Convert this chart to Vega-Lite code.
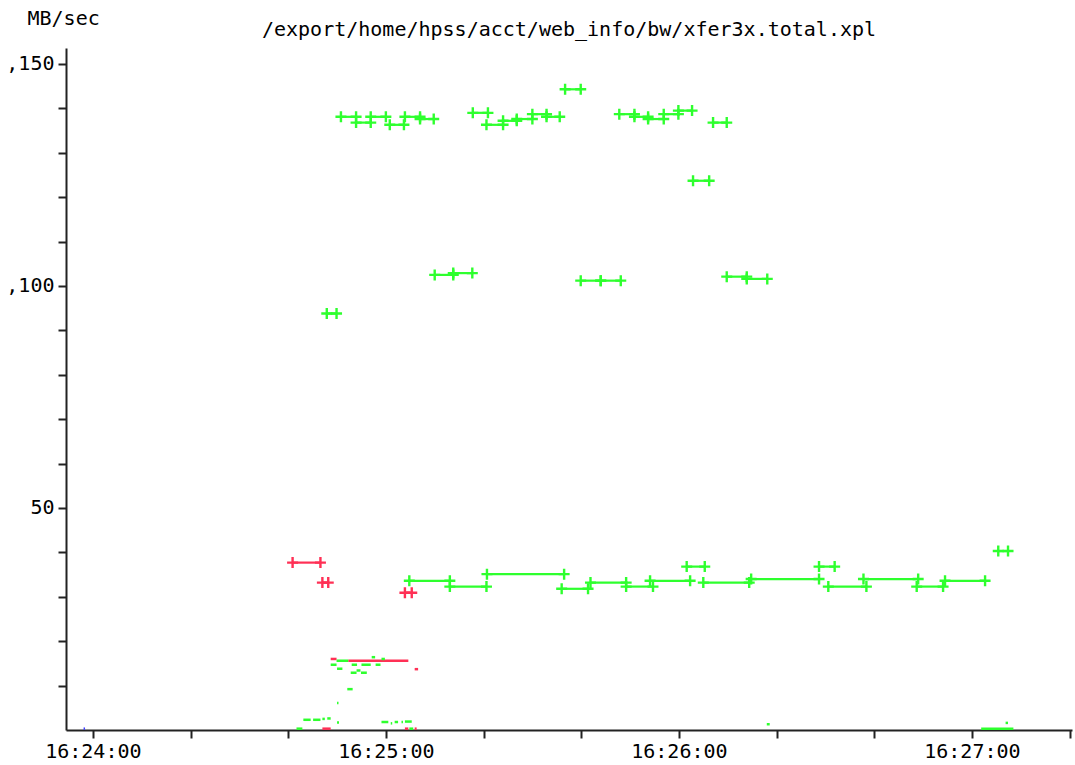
{
  "$schema": "https://vega.github.io/schema/vega-lite/v6.json",
  "autosize": "none",
  "width": 1006,
  "height": 682,
  "padding": {"left": 66, "top": 48, "right": 3, "bottom": 35},
  "background": "white",
  "title": {"text": "/export/home/hpss/acct/web_info/bw/xfer3x.total.xpl", "font": "DejaVu Sans Mono", "fontSize": 20, "fontWeight": "normal", "anchor": "middle", "offset": -32, "color": "black"},
  "config": {"view": {"stroke": null}, "axis": {"grid": false, "labelFont": "DejaVu Sans Mono", "labelFontSize": 20, "labelColor": "black", "titleFont": "DejaVu Sans Mono", "titleFontSize": 20, "titleFontWeight": "normal", "titleColor": "black", "domainColor": "#222", "domainWidth": 2, "tickColor": "#222", "tickWidth": 2, "tickSize": 8}},
  "datasets": {
    "segs": [
      {"start": "2000-01-01T16:24:50.8", "end": "2000-01-01T16:24:53.9", "mbps": 138.1, "flow": "green"},
      {"start": "2000-01-01T16:24:53.9", "end": "2000-01-01T16:24:56.9", "mbps": 136.8, "flow": "green"},
      {"start": "2000-01-01T16:24:56.9", "end": "2000-01-01T16:25:00.0", "mbps": 138.1, "flow": "green"},
      {"start": "2000-01-01T16:25:00.8", "end": "2000-01-01T16:25:03.7", "mbps": 136.3, "flow": "green"},
      {"start": "2000-01-01T16:25:03.9", "end": "2000-01-01T16:25:07.0", "mbps": 138.1, "flow": "green"},
      {"start": "2000-01-01T16:25:07.0", "end": "2000-01-01T16:25:09.8", "mbps": 137.6, "flow": "green"},
      {"start": "2000-01-01T16:25:17.8", "end": "2000-01-01T16:25:20.9", "mbps": 139.0, "flow": "green"},
      {"start": "2000-01-01T16:25:20.6", "end": "2000-01-01T16:25:24.0", "mbps": 136.3, "flow": "green"},
      {"start": "2000-01-01T16:25:24.0", "end": "2000-01-01T16:25:26.8", "mbps": 137.2, "flow": "green"},
      {"start": "2000-01-01T16:25:26.8", "end": "2000-01-01T16:25:30.0", "mbps": 137.6, "flow": "green"},
      {"start": "2000-01-01T16:25:30.0", "end": "2000-01-01T16:25:32.9", "mbps": 138.7, "flow": "green"},
      {"start": "2000-01-01T16:25:32.9", "end": "2000-01-01T16:25:35.6", "mbps": 138.1, "flow": "green"},
      {"start": "2000-01-01T16:25:36.7", "end": "2000-01-01T16:25:39.9", "mbps": 144.3, "flow": "green"},
      {"start": "2000-01-01T16:25:47.8", "end": "2000-01-01T16:25:50.9", "mbps": 138.7, "flow": "green"},
      {"start": "2000-01-01T16:25:50.9", "end": "2000-01-01T16:25:53.7", "mbps": 138.1, "flow": "green"},
      {"start": "2000-01-01T16:25:53.7", "end": "2000-01-01T16:25:56.9", "mbps": 137.6, "flow": "green"},
      {"start": "2000-01-01T16:25:56.9", "end": "2000-01-01T16:25:59.9", "mbps": 138.7, "flow": "green"},
      {"start": "2000-01-01T16:25:59.9", "end": "2000-01-01T16:26:02.7", "mbps": 139.5, "flow": "green"},
      {"start": "2000-01-01T16:26:02.9", "end": "2000-01-01T16:26:06.2", "mbps": 123.7, "flow": "green"},
      {"start": "2000-01-01T16:26:07.0", "end": "2000-01-01T16:26:09.8", "mbps": 136.8, "flow": "green"},
      {"start": "2000-01-01T16:24:47.9", "end": "2000-01-01T16:24:49.9", "mbps": 93.8, "flow": "green"},
      {"start": "2000-01-01T16:25:10.0", "end": "2000-01-01T16:25:13.8", "mbps": 102.5, "flow": "green"},
      {"start": "2000-01-01T16:25:13.8", "end": "2000-01-01T16:25:17.7", "mbps": 102.9, "flow": "green"},
      {"start": "2000-01-01T16:25:39.9", "end": "2000-01-01T16:25:44.0", "mbps": 101.2, "flow": "green"},
      {"start": "2000-01-01T16:25:44.0", "end": "2000-01-01T16:25:48.1", "mbps": 101.2, "flow": "green"},
      {"start": "2000-01-01T16:26:09.8", "end": "2000-01-01T16:26:13.9", "mbps": 102.1, "flow": "green"},
      {"start": "2000-01-01T16:26:13.9", "end": "2000-01-01T16:26:18.1", "mbps": 101.6, "flow": "green"},
      {"start": "2000-01-01T16:25:04.8", "end": "2000-01-01T16:25:13.1", "mbps": 33.6, "flow": "green"},
      {"start": "2000-01-01T16:25:13.1", "end": "2000-01-01T16:25:20.6", "mbps": 32.3, "flow": "green"},
      {"start": "2000-01-01T16:25:20.7", "end": "2000-01-01T16:25:36.5", "mbps": 35.1, "flow": "green"},
      {"start": "2000-01-01T16:25:36.0", "end": "2000-01-01T16:25:41.4", "mbps": 31.8, "flow": "green"},
      {"start": "2000-01-01T16:25:41.9", "end": "2000-01-01T16:25:49.2", "mbps": 33.2, "flow": "green"},
      {"start": "2000-01-01T16:25:49.2", "end": "2000-01-01T16:25:54.7", "mbps": 32.3, "flow": "green"},
      {"start": "2000-01-01T16:25:54.1", "end": "2000-01-01T16:26:02.3", "mbps": 33.6, "flow": "green"},
      {"start": "2000-01-01T16:26:01.6", "end": "2000-01-01T16:26:05.3", "mbps": 36.8, "flow": "green"},
      {"start": "2000-01-01T16:26:05.0", "end": "2000-01-01T16:26:14.4", "mbps": 33.2, "flow": "green"},
      {"start": "2000-01-01T16:26:14.8", "end": "2000-01-01T16:26:28.7", "mbps": 34.0, "flow": "green"},
      {"start": "2000-01-01T16:26:28.7", "end": "2000-01-01T16:26:31.9", "mbps": 36.8, "flow": "green"},
      {"start": "2000-01-01T16:26:30.6", "end": "2000-01-01T16:26:38.4", "mbps": 32.3, "flow": "green"},
      {"start": "2000-01-01T16:26:37.8", "end": "2000-01-01T16:26:49.0", "mbps": 34.0, "flow": "green"},
      {"start": "2000-01-01T16:26:48.7", "end": "2000-01-01T16:26:54.1", "mbps": 32.3, "flow": "green"},
      {"start": "2000-01-01T16:26:54.5", "end": "2000-01-01T16:27:02.7", "mbps": 33.6, "flow": "green"},
      {"start": "2000-01-01T16:27:05.4", "end": "2000-01-01T16:27:07.4", "mbps": 40.3, "flow": "green"},
      {"start": "2000-01-01T16:24:40.9", "end": "2000-01-01T16:24:46.6", "mbps": 37.7, "flow": "red"},
      {"start": "2000-01-01T16:24:47.0", "end": "2000-01-01T16:24:48.2", "mbps": 33.2, "flow": "red"},
      {"start": "2000-01-01T16:25:03.9", "end": "2000-01-01T16:25:05.3", "mbps": 30.9, "flow": "red"}
    ],
    "dashes": [
      {"start": "2000-01-01T16:24:52.3", "end": "2000-01-01T16:25:04.6", "mbps": 15.6, "flow": "red"},
      {"start": "2000-01-01T16:24:48.7", "end": "2000-01-01T16:24:49.9", "mbps": 16.0, "flow": "red"},
      {"start": "2000-01-01T16:25:05.9", "end": "2000-01-01T16:25:06.6", "mbps": 13.7, "flow": "red"},
      {"start": "2000-01-01T16:24:47.0", "end": "2000-01-01T16:24:48.7", "mbps": 0.3, "flow": "red"},
      {"start": "2000-01-01T16:25:03.9", "end": "2000-01-01T16:25:04.6", "mbps": 0.3, "flow": "red"},
      {"start": "2000-01-01T16:25:05.9", "end": "2000-01-01T16:25:06.3", "mbps": 0.3, "flow": "red"},
      {"start": "2000-01-01T16:24:49.9", "end": "2000-01-01T16:24:52.3", "mbps": 15.6, "flow": "green"},
      {"start": "2000-01-01T16:24:57.1", "end": "2000-01-01T16:24:57.8", "mbps": 16.4, "flow": "green"},
      {"start": "2000-01-01T16:24:59.1", "end": "2000-01-01T16:24:59.8", "mbps": 16.0, "flow": "green"},
      {"start": "2000-01-01T16:24:48.7", "end": "2000-01-01T16:24:49.9", "mbps": 14.7, "flow": "green"},
      {"start": "2000-01-01T16:24:53.0", "end": "2000-01-01T16:24:54.1", "mbps": 14.7, "flow": "green"},
      {"start": "2000-01-01T16:24:55.0", "end": "2000-01-01T16:24:56.9", "mbps": 14.7, "flow": "green"},
      {"start": "2000-01-01T16:24:57.9", "end": "2000-01-01T16:24:58.9", "mbps": 14.7, "flow": "green"},
      {"start": "2000-01-01T16:24:50.0", "end": "2000-01-01T16:24:51.1", "mbps": 13.8, "flow": "green"},
      {"start": "2000-01-01T16:24:52.8", "end": "2000-01-01T16:24:54.0", "mbps": 12.9, "flow": "green"},
      {"start": "2000-01-01T16:24:54.0", "end": "2000-01-01T16:24:54.8", "mbps": 13.4, "flow": "green"},
      {"start": "2000-01-01T16:24:54.9", "end": "2000-01-01T16:24:56.1", "mbps": 12.9, "flow": "green"},
      {"start": "2000-01-01T16:24:52.1", "end": "2000-01-01T16:24:53.2", "mbps": 9.2, "flow": "green"},
      {"start": "2000-01-01T16:24:50.0", "end": "2000-01-01T16:24:50.3", "mbps": 6.1, "flow": "green"},
      {"start": "2000-01-01T16:24:43.1", "end": "2000-01-01T16:24:44.6", "mbps": 2.3, "flow": "green"},
      {"start": "2000-01-01T16:24:45.1", "end": "2000-01-01T16:24:46.6", "mbps": 2.3, "flow": "green"},
      {"start": "2000-01-01T16:24:47.0", "end": "2000-01-01T16:24:47.5", "mbps": 2.5, "flow": "green"},
      {"start": "2000-01-01T16:24:48.0", "end": "2000-01-01T16:24:48.7", "mbps": 2.6, "flow": "green"},
      {"start": "2000-01-01T16:24:50.0", "end": "2000-01-01T16:24:50.4", "mbps": 1.7, "flow": "green"},
      {"start": "2000-01-01T16:24:59.1", "end": "2000-01-01T16:25:00.5", "mbps": 1.8, "flow": "green"},
      {"start": "2000-01-01T16:25:01.0", "end": "2000-01-01T16:25:01.3", "mbps": 1.5, "flow": "green"},
      {"start": "2000-01-01T16:25:01.8", "end": "2000-01-01T16:25:02.5", "mbps": 1.8, "flow": "green"},
      {"start": "2000-01-01T16:25:03.2", "end": "2000-01-01T16:25:03.5", "mbps": 1.8, "flow": "green"},
      {"start": "2000-01-01T16:25:03.9", "end": "2000-01-01T16:25:05.3", "mbps": 1.9, "flow": "green"},
      {"start": "2000-01-01T16:24:41.7", "end": "2000-01-01T16:24:42.9", "mbps": 0.3, "flow": "green"},
      {"start": "2000-01-01T16:25:04.8", "end": "2000-01-01T16:25:05.6", "mbps": 0.3, "flow": "green"},
      {"start": "2000-01-01T16:26:18.0", "end": "2000-01-01T16:26:18.6", "mbps": 1.3, "flow": "green"},
      {"start": "2000-01-01T16:27:01.9", "end": "2000-01-01T16:27:08.5", "mbps": 0.3, "flow": "green"},
      {"start": "2000-01-01T16:27:06.9", "end": "2000-01-01T16:27:07.4", "mbps": 1.6, "flow": "green"},
      {"start": "2000-01-01T16:23:58.1", "end": "2000-01-01T16:23:58.4", "mbps": 0.3, "flow": "blue"}
    ]
  },
  "layer": [
    {
      "data": {"name": "dashes"},
      "mark": {"type": "rule", "strokeWidth": 2.5},
      "encoding": {
        "x": {"field": "start", "type": "temporal",
          "scale": {"domain": [{"year": 2000, "month": 1, "date": 1, "hours": 16, "minutes": 23, "seconds": 54, "milliseconds": 500}, {"year": 2000, "month": 1, "date": 1, "hours": 16, "minutes": 27, "seconds": 20, "milliseconds": 500}]},
          "axis": {"title": null,
            "values": [
              {"year": 2000, "month": 1, "date": 1, "hours": 16, "minutes": 24, "seconds": 0},
              {"year": 2000, "month": 1, "date": 1, "hours": 16, "minutes": 24, "seconds": 20},
              {"year": 2000, "month": 1, "date": 1, "hours": 16, "minutes": 24, "seconds": 40},
              {"year": 2000, "month": 1, "date": 1, "hours": 16, "minutes": 25, "seconds": 0},
              {"year": 2000, "month": 1, "date": 1, "hours": 16, "minutes": 25, "seconds": 20},
              {"year": 2000, "month": 1, "date": 1, "hours": 16, "minutes": 25, "seconds": 40},
              {"year": 2000, "month": 1, "date": 1, "hours": 16, "minutes": 26, "seconds": 0},
              {"year": 2000, "month": 1, "date": 1, "hours": 16, "minutes": 26, "seconds": 20},
              {"year": 2000, "month": 1, "date": 1, "hours": 16, "minutes": 26, "seconds": 40},
              {"year": 2000, "month": 1, "date": 1, "hours": 16, "minutes": 27, "seconds": 0},
              {"year": 2000, "month": 1, "date": 1, "hours": 16, "minutes": 27, "seconds": 20}
            ],
            "format": "%H:%M:%S",
            "labelExpr": "indexof(datum.label, ':00', 4) == 5 ? datum.label : ''", "labelOverlap": false, "labelFlush": false, "labelPadding": 3}},
        "x2": {"field": "end"},
        "y": {"field": "mbps", "type": "quantitative",
          "scale": {"domain": [0, 153.6], "nice": false, "zero": false},
          "axis": {"title": "MB/sec", "titleAngle": 0, "titleAlign": "left", "titleBaseline": "middle", "titleX": -39, "titleY": -30, "values": [10, 20, 30, 40, 50, 60, 70, 80, 90, 100, 110, 120, 130, 140, 150], "labelExpr": "datum.value == 150 ? ',150' : datum.value == 100 ? ',100' : datum.value == 50 ? '50' : ''", "labelPadding": 4, "labelOverlap": false}},
        "color": {"field": "flow", "type": "nominal", "scale": {"domain": ["green", "red", "blue"], "range": ["#2eff2e", "#ff3055", "#4040ff"]}, "legend": null}
      }
    },
    {
      "data": {"name": "segs"},
      "mark": {"type": "rule", "strokeWidth": 2.2},
      "encoding": {
        "x": {"field": "start", "type": "temporal"},
        "x2": {"field": "end"},
        "y": {"field": "mbps", "type": "quantitative"},
        "color": {"field": "flow", "type": "nominal", "legend": null}
      }
    },
    {
      "data": {"name": "segs"},
      "mark": {"type": "point", "shape": "M-1,0L1,0M0,-1L0,1", "filled": false, "strokeWidth": 2.4, "size": 121, "opacity": 1},
      "encoding": {
        "x": {"field": "start", "type": "temporal"},
        "y": {"field": "mbps", "type": "quantitative"},
        "color": {"field": "flow", "type": "nominal", "legend": null}
      }
    },
    {
      "data": {"name": "segs"},
      "mark": {"type": "point", "shape": "M-1,0L1,0M0,-1L0,1", "filled": false, "strokeWidth": 2.4, "size": 121, "opacity": 1},
      "encoding": {
        "x": {"field": "end", "type": "temporal"},
        "y": {"field": "mbps", "type": "quantitative"},
        "color": {"field": "flow", "type": "nominal", "legend": null}
      }
    }
  ]
}
